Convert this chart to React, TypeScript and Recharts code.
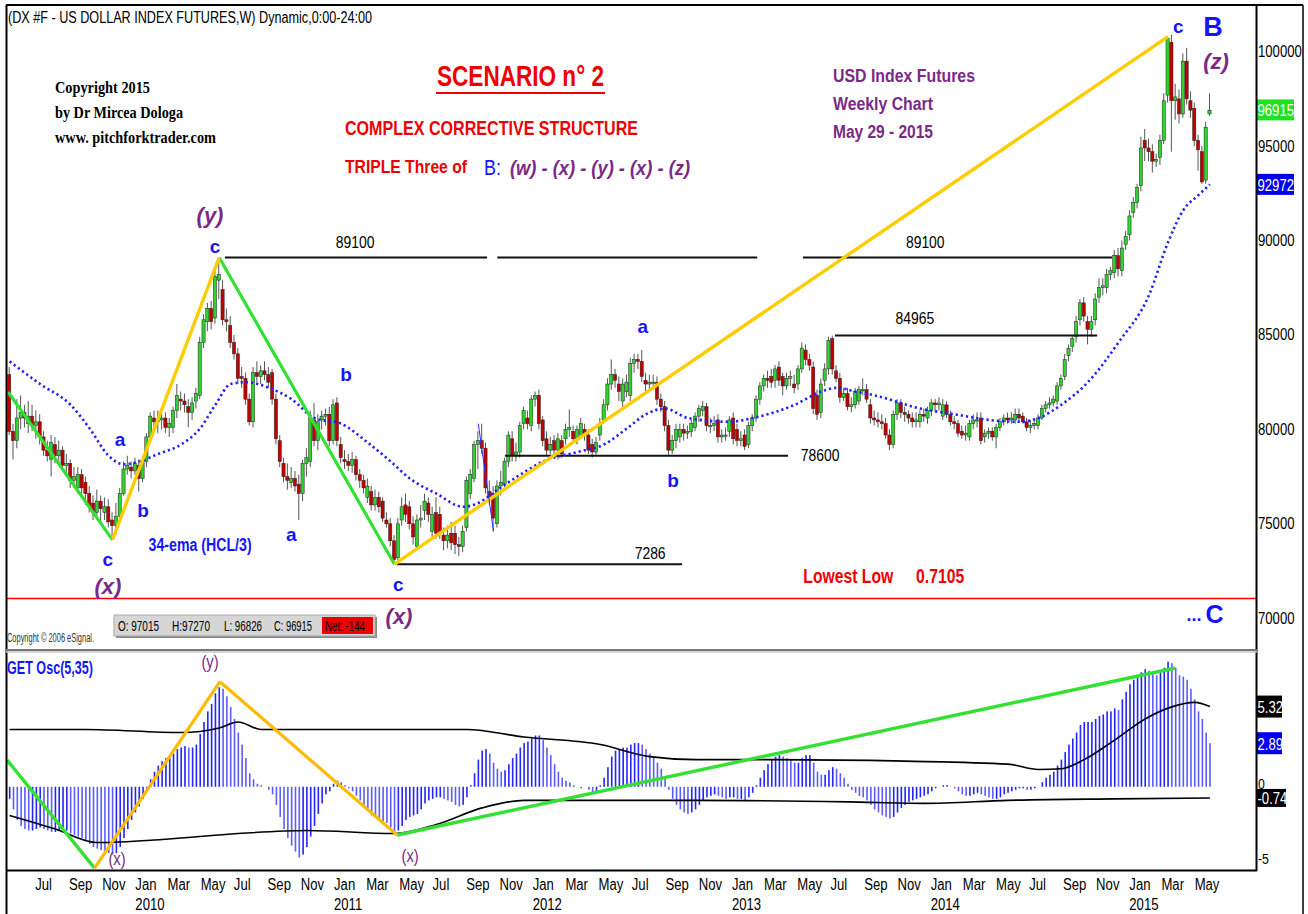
import React from 'react';
import { ComposedChart, Bar, Line, XAxis, YAxis, ReferenceLine, ReferenceDot } from 'recharts';

const SANS = "'Liberation Sans', Arial, sans-serif";
const SERIF = "'Liberation Serif', 'Times New Roman', serif";
const NARROW_X = 0.82;

const DAY = 86400000;
const FIRST_FRIDAY = Date.UTC(2009, 4, 15);
const weekTime = (w: number) => FIRST_FRIDAY + w * 7 * DAY;

// weekly candles [open, high, low, close], one array per calendar year
const ohlc2009 = [
  [82.9, 83.3, 79.7, 79.9], [79.9, 80.3, 78.4, 79.4], [79.4, 81.6, 79.0, 80.6], [80.6, 81.8, 80.0, 80.9],
  [80.9, 81.3, 80.1, 80.6], [80.3, 81.5, 79.8, 80.7], [80.7, 81.3, 79.9, 80.2], [80.2, 81.0, 79.5, 80.4],
  [80.4, 80.8, 79.2, 79.6], [79.6, 79.9, 78.6, 78.9], [78.9, 79.4, 78.3, 78.6], [78.4, 79.7, 77.5, 79.3],
  [79.2, 79.6, 78.2, 78.6], [78.6, 79.4, 78.1, 78.9], [78.9, 79.1, 77.8, 78.1], [78.1, 78.7, 77.6, 78.2],
  [78.2, 78.4, 76.9, 77.3], [77.3, 78.0, 76.9, 77.5], [76.9, 78.0, 76.6, 77.6], [77.6, 77.9, 76.6, 76.9],
  [77.2, 77.5, 76.0, 76.6], [76.6, 77.0, 75.6, 75.9], [76.1, 76.5, 75.2, 75.6], [75.6, 76.8, 75.4, 76.2],
  [76.2, 76.5, 75.0, 75.8], [75.6, 76.4, 75.2, 75.9], [75.9, 76.3, 74.8, 75.1], [75.2, 75.6, 74.15, 74.9],
  [74.9, 76.1, 74.4, 75.4], [75.4, 76.9, 75.3, 76.6], [76.6, 78.3, 76.5, 77.9], [77.9, 78.6, 77.6, 78.1],
  [78.0, 78.3, 77.4, 77.8],
];
const ohlc2010 = [
  [77.8, 78.5, 77.6, 78.2], [78.1, 78.4, 76.7, 77.4], [77.4, 78.6, 77.2, 78.3], [78.3, 79.8, 78.0, 79.6],
  [79.6, 80.9, 79.3, 80.7], [80.6, 81.0, 79.9, 80.4], [80.4, 81.0, 79.8, 80.5], [80.5, 81.2, 80.0, 80.6],
  [80.6, 80.9, 79.8, 80.1], [80.1, 80.6, 79.6, 80.3], [80.1, 81.2, 79.8, 81.0], [81.0, 82.4, 80.6, 81.8],
  [81.6, 82.0, 81.0, 81.5], [81.5, 81.9, 80.9, 81.3], [81.2, 81.6, 80.1, 80.9], [80.9, 81.7, 80.5, 81.4],
  [81.5, 82.2, 81.1, 81.9], [81.8, 84.9, 81.6, 84.6], [84.6, 86.1, 84.3, 85.8], [85.7, 86.7, 85.2, 86.4],
  [86.4, 86.8, 85.3, 85.7], [85.9, 88.6, 85.6, 88.1], [87.9, 89.1, 86.9, 88.2], [87.4, 87.9, 85.5, 85.8],
  [85.8, 86.4, 85.2, 85.7], [85.5, 86.0, 84.3, 84.6], [84.6, 85.0, 83.7, 84.0], [84.0, 84.3, 82.4, 82.7],
  [82.8, 83.3, 82.2, 82.7], [82.7, 83.0, 81.3, 81.6], [81.6, 81.9, 80.2, 80.4], [80.4, 83.3, 80.1, 83.0],
  [83.0, 83.6, 82.5, 82.8], [82.8, 83.4, 82.4, 83.1], [83.1, 83.6, 82.6, 82.9], [82.9, 83.3, 82.2, 82.5],
  [83.0, 83.2, 81.3, 81.6], [81.6, 81.9, 79.2, 79.5], [79.4, 79.7, 78.0, 78.3], [78.2, 78.5, 77.2, 77.5],
  [77.5, 78.2, 76.8, 77.3], [77.2, 78.0, 76.9, 77.4], [77.4, 77.8, 76.7, 77.0], [77.1, 77.6, 75.2, 76.6],
  [76.6, 78.4, 76.2, 78.2], [78.2, 79.0, 77.5, 78.5], [78.3, 81.0, 78.0, 80.6], [80.5, 81.4, 79.1, 79.4],
  [79.4, 80.8, 78.9, 80.4], [80.5, 81.0, 80.0, 80.7], [80.7, 81.1, 80.2, 80.8], [80.8, 81.2, 79.1, 79.4],
  [79.4, 81.6, 79.2, 81.3],
];
const ohlc2011 = [
  [81.4, 81.7, 79.1, 79.4], [79.2, 79.6, 78.2, 78.5], [78.4, 78.9, 77.9, 78.3], [78.3, 78.7, 77.8, 78.1],
  [78.1, 78.8, 77.7, 78.4], [78.4, 78.6, 77.3, 77.6], [77.6, 77.9, 76.9, 77.3], [77.3, 77.6, 76.6, 76.9],
  [76.4, 77.4, 76.1, 77.0], [76.7, 77.0, 75.7, 76.0], [76.0, 76.8, 75.7, 76.4], [76.4, 76.7, 75.6, 75.9],
  [76.2, 76.4, 75.1, 75.3], [75.2, 75.6, 74.8, 75.0], [75.0, 75.3, 73.8, 74.1], [74.1, 74.4, 72.86, 73.1],
  [73.2, 75.3, 73.0, 75.0], [75.2, 76.4, 74.9, 75.9], [76.0, 76.6, 75.1, 75.5], [75.9, 76.2, 74.7, 75.0],
  [75.0, 75.4, 73.9, 74.3], [73.8, 75.5, 73.6, 75.2], [75.2, 76.0, 74.8, 75.3], [75.7, 76.6, 75.2, 76.2],
  [76.1, 76.4, 75.1, 75.5], [74.6, 75.9, 74.3, 75.5], [75.6, 76.4, 74.2, 74.5], [75.5, 75.9, 74.2, 74.5],
  [74.4, 74.8, 73.6, 74.1], [74.1, 74.9, 73.7, 74.4], [74.5, 75.1, 73.6, 74.0], [74.5, 74.9, 73.4, 73.9],
  [73.9, 74.3, 73.3, 73.8], [73.8, 74.9, 73.5, 74.6], [74.8, 77.5, 74.6, 77.3], [76.6, 77.9, 76.3, 77.6],
  [77.4, 79.4, 77.2, 79.2], [79.2, 79.9, 77.9, 79.4], [79.4, 80.3, 78.7, 79.0], [79.0, 79.3, 76.6, 76.9],
  [76.7, 77.3, 76.0, 76.4], [76.6, 77.0, 74.6, 75.3], [75.0, 77.3, 74.8, 77.0], [77.0, 77.8, 76.5, 77.2],
  [77.1, 78.5, 76.8, 78.3], [78.3, 79.9, 78.0, 79.7], [79.5, 79.9, 78.3, 78.6], [78.6, 79.3, 78.3, 78.8],
  [78.8, 80.4, 78.5, 80.2], [80.3, 81.2, 80.0, 81.0], [80.6, 81.0, 80.0, 80.3], [80.2, 81.8, 79.9, 81.6],
];
const ohlc2012 = [
  [81.6, 82.0, 81.2, 81.8], [81.8, 82.1, 80.0, 80.3], [80.5, 80.7, 79.1, 79.4], [79.5, 79.9, 78.6, 78.9],
  [78.9, 79.6, 78.7, 79.2], [79.4, 79.7, 78.6, 78.9], [78.9, 79.8, 78.4, 79.5], [79.4, 79.7, 78.5, 78.7],
  [79.5, 80.3, 79.2, 80.0], [80.0, 81.05, 79.6, 80.1], [79.9, 80.2, 79.3, 79.5], [79.5, 80.2, 79.2, 80.0],
  [79.7, 80.6, 79.5, 80.3], [80.0, 80.3, 79.4, 79.7], [79.7, 80.0, 78.7, 78.9], [79.2, 79.5, 78.5, 78.8],
  [78.8, 79.6, 78.6, 79.3], [79.7, 80.6, 79.4, 80.3], [80.5, 81.6, 80.3, 81.3], [81.3, 82.7, 81.0, 82.4],
  [82.4, 83.7, 82.1, 82.9], [82.9, 83.2, 82.2, 82.6], [82.4, 82.8, 81.5, 82.0], [81.5, 82.7, 81.2, 82.4],
  [82.0, 82.9, 81.7, 82.5], [81.8, 83.8, 81.5, 83.5], [83.5, 84.0, 83.0, 83.7], [83.7, 84.0, 83.2, 83.6],
  [83.6, 84.2, 82.5, 82.8], [82.6, 83.0, 82.0, 82.4], [82.4, 82.9, 82.0, 82.5], [82.5, 82.9, 82.1, 82.5],
  [82.5, 82.8, 81.3, 81.6], [81.6, 81.9, 80.9, 81.2], [81.2, 81.5, 79.9, 80.2], [80.2, 80.5, 78.6, 78.9],
  [78.9, 79.7, 78.7, 79.4], [79.4, 80.3, 79.0, 80.0], [79.6, 80.3, 79.3, 80.0], [80.0, 80.3, 79.4, 79.8],
  [79.8, 80.2, 79.5, 79.9], [79.9, 80.5, 79.6, 80.3], [80.1, 80.9, 79.9, 80.7], [80.7, 81.3, 80.4, 81.1],
  [81.0, 81.5, 80.7, 81.2], [81.2, 81.4, 79.9, 80.2], [80.2, 80.6, 79.8, 80.2], [80.2, 80.7, 79.9, 80.3],
  [80.5, 80.8, 79.3, 79.6], [79.6, 80.0, 79.3, 79.7], [79.7, 80.1, 79.4, 79.7], [79.9, 80.7, 79.6, 80.5],
];
const ohlc2013 = [
  [80.6, 80.9, 79.2, 79.5], [80.0, 80.3, 79.1, 79.4], [79.4, 79.9, 79.1, 79.5], [79.7, 80.0, 78.9, 79.1],
  [79.2, 80.4, 79.0, 80.2], [80.2, 80.8, 79.9, 80.6], [80.6, 81.8, 80.4, 81.6], [81.6, 82.5, 81.3, 82.3],
  [82.3, 82.9, 82.0, 82.7], [82.7, 83.1, 82.2, 82.6], [82.8, 83.2, 82.2, 82.5], [82.6, 83.4, 82.2, 83.2],
  [83.3, 83.6, 82.3, 82.6], [82.8, 83.0, 81.8, 82.3], [82.3, 83.0, 82.1, 82.7], [82.7, 83.1, 82.3, 82.8],
  [82.4, 82.9, 81.9, 82.2], [82.4, 83.4, 82.1, 83.2], [83.2, 84.6, 83.0, 84.3], [84.2, 84.5, 83.4, 83.7],
  [83.7, 84.0, 83.1, 83.4], [83.3, 83.6, 80.8, 81.1], [81.8, 82.1, 80.5, 80.8], [80.9, 82.7, 80.6, 82.4],
  [82.6, 83.5, 82.3, 83.2], [83.2, 84.9, 82.9, 84.7], [84.8, 84.965, 82.9, 83.2], [83.1, 83.4, 82.5, 82.7],
  [82.7, 83.0, 81.4, 81.7], [81.7, 82.2, 81.5, 81.9], [81.9, 82.2, 81.0, 81.2], [81.2, 81.7, 80.9, 81.3],
  [81.3, 82.2, 81.1, 82.0], [81.5, 82.3, 81.3, 82.1], [82.1, 82.7, 81.8, 82.1], [82.1, 82.4, 81.4, 81.6],
  [81.3, 81.6, 80.3, 80.6], [80.6, 81.0, 80.2, 80.5], [80.5, 80.9, 80.1, 80.4], [80.4, 80.8, 80.0, 80.3],
  [80.3, 80.6, 79.5, 79.7], [79.7, 80.0, 78.9, 79.2], [79.2, 81.0, 79.0, 80.8], [80.8, 81.6, 80.5, 81.4],
  [81.4, 81.6, 80.6, 80.9], [80.9, 81.2, 80.4, 80.8], [80.8, 81.0, 80.3, 80.6], [80.6, 80.9, 80.1, 80.4],
  [80.4, 80.9, 80.1, 80.5], [80.4, 81.0, 80.1, 80.8], [80.8, 81.1, 80.4, 80.7], [80.6, 81.2, 80.3, 81.0],
];
const ohlc2014 = [
  [81.0, 81.6, 80.7, 81.4], [81.4, 81.6, 80.9, 81.3], [81.3, 81.7, 81.0, 81.4], [80.7, 81.6, 80.5, 81.3],
  [81.3, 81.5, 80.6, 80.8], [80.8, 81.0, 80.2, 80.4], [80.4, 80.7, 80.0, 80.3], [80.3, 80.5, 79.6, 79.8],
  [79.9, 80.2, 79.5, 79.7], [79.7, 80.2, 79.4, 79.8], [79.6, 80.5, 79.4, 80.3], [80.3, 80.8, 80.0, 80.5],
  [80.5, 80.9, 80.1, 80.5], [80.6, 80.9, 79.2, 79.4], [79.6, 80.0, 79.3, 79.8], [79.8, 80.1, 79.5, 79.9],
  [79.9, 80.1, 79.4, 79.6], [79.6, 80.3, 79.0, 80.1], [80.1, 80.6, 79.9, 80.4], [80.4, 80.8, 80.2, 80.6],
  [80.6, 80.9, 80.3, 80.5], [80.5, 80.9, 80.3, 80.6], [80.5, 81.1, 80.3, 80.8], [80.8, 81.1, 80.4, 80.6],
  [80.7, 80.9, 80.3, 80.4], [80.4, 80.6, 79.9, 80.1], [80.1, 80.5, 79.8, 80.2], [80.2, 80.6, 80.0, 80.3],
  [80.2, 80.8, 80.0, 80.6], [80.6, 81.3, 80.5, 81.1], [81.1, 81.5, 80.9, 81.3], [81.3, 81.7, 81.1, 81.4],
  [81.4, 81.8, 81.2, 81.6], [81.5, 82.5, 81.3, 82.3], [82.3, 82.9, 82.1, 82.7], [82.8, 84.0, 82.6, 83.7],
  [83.9, 84.5, 83.6, 84.3], [84.4, 85.0, 84.1, 84.8], [84.9, 86.0, 84.6, 85.7], [85.8, 86.9, 85.5, 86.7],
  [86.7, 87.0, 85.7, 86.0], [85.7, 86.0, 84.5, 85.3], [85.3, 86.0, 84.9, 85.7], [85.8, 87.2, 85.5, 86.9],
  [87.0, 88.0, 86.7, 87.5], [87.5, 88.0, 87.1, 87.6], [87.5, 88.5, 87.2, 88.2], [88.2, 88.6, 87.9, 88.4],
  [88.3, 89.5, 88.0, 89.2], [89.2, 89.6, 88.1, 88.5], [88.4, 90.0, 88.1, 89.6], [89.8, 90.5, 89.5, 90.2],
];
const ohlc2015 = [
  [90.3, 91.6, 90.0, 91.3], [91.5, 92.3, 91.2, 92.0], [92.0, 93.0, 91.7, 92.8], [92.9, 95.5, 92.6, 94.9],
  [95.3, 95.9, 94.2, 94.9], [94.9, 95.4, 94.2, 94.7], [94.7, 95.1, 93.6, 94.2], [94.2, 94.6, 93.9, 94.3],
  [94.4, 95.6, 94.0, 95.3], [95.3, 97.8, 95.1, 97.4], [97.7, 100.8, 97.3, 100.7], [100.5, 100.9, 94.7, 97.4],
  [97.4, 98.3, 96.4, 97.6], [97.5, 98.0, 96.2, 96.7], [96.7, 99.9, 96.5, 99.5], [99.5, 100.2, 97.2, 97.5],
  [97.4, 97.9, 96.5, 96.9], [97.0, 97.3, 95.0, 95.3], [95.3, 95.6, 93.7, 94.8], [94.7, 95.0, 93.0, 93.1],
  [93.2, 96.3, 93.0, 96.0], [96.7, 97.8, 96.6, 96.9],
];

// GET oscillator (5,35) histogram, one value per week
const osc2009 = [-0.8, -1.5, -2.2, -2.6, -2.8, -2.9, -2.9, -2.8, -2.7, -2.8, -2.9, -3.0, -3.0, -2.9, -2.9, -2.9, -3.1, -3.2, -3.3, -3.4, -3.6, -3.8, -4.0, -4.1, -4.2, -4.3, -4.4, -4.5, -4.4, -4.0, -3.4, -2.8, -2.2];
const osc2010 = [-1.7, -1.3, -0.8, -0.2, 0.5, 1.0, 1.4, 1.7, 1.9, 2.0, 2.2, 2.5, 2.6, 2.7, 2.6, 2.6, 2.8, 3.5, 4.3, 5.0, 5.5, 6.2, 6.6, 6.5, 6.0, 5.3, 4.5, 3.6, 2.8, 1.9, 0.9, 0.5, 0.2, 0.1, 0.0, -0.2, -0.5, -1.2, -2.0, -2.8, -3.4, -3.9, -4.3, -4.7, -4.5, -4.0, -3.3, -2.6, -1.8, -1.1, -0.5, -0.3, 0.2];
const osc2011 = [0.4, 0.3, 0.1, -0.1, -0.3, -0.6, -0.9, -1.3, -1.6, -1.9, -2.0, -2.1, -2.3, -2.4, -2.7, -3.0, -2.9, -2.6, -2.2, -2.0, -1.9, -1.8, -1.5, -1.1, -0.9, -0.8, -0.7, -0.7, -0.8, -0.9, -1.0, -1.2, -1.3, -1.2, -0.7, 0.1, 0.9, 1.8, 2.4, 2.5, 2.2, 1.6, 1.2, 1.0, 1.1, 1.5, 1.9, 2.2, 2.6, 2.9, 3.0, 3.2];
const osc2012 = [3.4, 3.4, 3.1, 2.6, 2.1, 1.5, 1.0, 0.6, 0.4, 0.3, 0.1, 0.0, -0.1, 0.0, -0.2, -0.4, -0.3, 0.1, 0.6, 1.3, 2.0, 2.4, 2.5, 2.6, 2.6, 2.8, 2.9, 2.9, 2.8, 2.5, 2.2, 2.0, 1.6, 1.2, 0.6, -0.2, -0.8, -1.2, -1.5, -1.7, -1.8, -1.7, -1.5, -1.2, -0.9, -0.7, -0.6, -0.5, -0.6, -0.7, -0.8, -0.7];
const osc2013 = [-0.7, -0.8, -0.8, -0.9, -0.7, -0.4, 0.1, 0.6, 1.1, 1.5, 1.8, 2.0, 2.1, 2.0, 1.9, 1.8, 1.6, 1.6, 1.9, 2.1, 2.1, 1.6, 1.0, 0.8, 0.8, 1.1, 1.3, 1.2, 0.9, 0.6, 0.2, -0.2, -0.4, -0.6, -0.7, -0.9, -1.2, -1.5, -1.7, -1.9, -2.0, -2.1, -2.0, -1.7, -1.4, -1.2, -1.0, -0.9, -0.8, -0.7, -0.6, -0.5];
const osc2014 = [-0.3, -0.1, 0.0, 0.1, 0.1, 0.0, -0.1, -0.3, -0.5, -0.6, -0.6, -0.5, -0.4, -0.5, -0.6, -0.7, -0.8, -0.8, -0.7, -0.5, -0.4, -0.3, -0.2, -0.1, -0.1, -0.2, -0.2, -0.1, 0.0, 0.3, 0.6, 0.8, 1.0, 1.4, 1.8, 2.3, 2.8, 3.2, 3.6, 4.1, 4.3, 4.3, 4.3, 4.5, 4.7, 4.8, 5.0, 5.0, 5.2, 5.1, 5.8, 6.3];
const osc2015 = [6.8, 7.1, 7.3, 7.6, 7.8, 7.7, 7.5, 7.4, 7.6, 7.9, 8.3, 8.2, 7.9, 7.4, 7.3, 7.1, 6.5, 5.8, 5.0, 4.5, 3.6, 2.89];

// 34-ema (HCL/3): [week number, value]
const emaPoints = [
  [0, 83.6], [8, 82.4], [16, 81.3], [21, 80.05], [26, 78.6], [30, 78.15], [34, 78.3], [39, 78.7], [45, 79.2],
  [50, 80.05], [54, 81.3], [58, 82.4], [62, 82.5], [68, 82.2], [74, 81.6], [80, 80.6], [87, 80.3], [94, 79.3],
  [100, 78.3], [105, 77.4], [112, 76.6], [119, 75.9], [123, 76.1], [128, 76.8], [134, 77.6], [140, 78.3],
  [149, 78.8], [156, 79.2], [162, 80.05], [167, 80.8], [172, 81.1], [178, 80.6], [189, 80.4], [195, 80.6],
  [206, 81.3], [213, 82.0], [217, 82.2], [222, 82.0], [227, 81.8], [239, 81.1], [248, 80.8], [257, 80.5],
  [265, 80.4], [270, 80.6], [276, 81.3], [283, 82.5], [291, 84.6], [299, 87.1], [304, 89.9], [308, 91.6],
  [312, 92.4], [315, 92.97],
];
// oscillator bands: [week number, value]
const upperBand = [
  [0, 3.8], [20, 3.8], [45, 3.6], [55, 3.9], [60, 4.3], [66, 3.8], [80, 3.8], [120, 3.8], [135, 3.3], [155, 2.8],
  [168, 2.0], [180, 1.8], [200, 1.8], [235, 1.7], [262, 1.5], [270, 1.15], [276, 1.2], [282, 1.8], [290, 3.1],
  [298, 4.5], [305, 5.3], [311, 5.6], [315, 5.32],
];
const lowerBand = [
  [0, -1.9], [12, -2.8], [23, -3.7], [40, -3.5], [60, -3.1], [78, -2.9], [101, -3.1], [112, -2.5], [124, -1.4],
  [135, -0.9], [180, -0.9], [220, -1.0], [240, -1.1], [262, -0.9], [290, -0.8], [315, -0.74],
];

// wave structure lines in the price panel: [week, price]
const greenWaves = [[[-0.4, 81.98], [27, 74.15]], [[55, 89.1], [101, 72.86]]];
const yellowWaves = [[[27, 74.15], [55, 89.1]], [[101, 72.86], [304, 100.8]]];
const minorWave = [[123, 80.3], [127, 74.6]];
const levelSegments = [
  { v: 89.1, from: 56.5, to: 125.3 }, { v: 89.1, from: 128, to: 196.2 }, { v: 89.1, from: 208.2, to: 289.3 },
  { v: 84.965, from: 216.6, to: 285.4 }, { v: 78.6, from: 130, to: 204.3 }, { v: 72.86, from: 101.7, to: 176.5 },
];
const LOWEST_LOW = 71.05;
const levelLabels = [
  { w: 90.7, v: 89.93, text: '89100' }, { w: 240.3, v: 89.93, text: '89100' }, { w: 237.6, v: 85.9, text: '84965' },
  { w: 212.7, v: 78.65, text: '78600' }, { w: 168.1, v: 73.46, text: '7286' },
];
const waveTags = [
  { w: 52.6, v: 91.34, text: '(y)', kind: 'deg' }, { w: 53.9, v: 89.69, text: 'c', kind: 'wave' },
  { w: 29.0, v: 79.44, text: 'a', kind: 'wave' }, { w: 35.0, v: 75.73, text: 'b', kind: 'wave' },
  { w: 25.8, v: 73.1, text: 'c', kind: 'wave' }, { w: 25.8, v: 71.66, text: '(x)', kind: 'deg' },
  { w: 73.9, v: 74.41, text: 'a', kind: 'wave' }, { w: 88.3, v: 82.89, text: 'b', kind: 'wave' },
  { w: 102.0, v: 71.76, text: 'c', kind: 'wave' }, { w: 102.2, v: 70.07, text: '(x)', kind: 'deg' },
  { w: 166.2, v: 85.43, text: 'a', kind: 'wave' }, { w: 174.1, v: 77.27, text: 'b', kind: 'wave' },
  { w: 306.7, v: 101.31, text: 'c', kind: 'wave' }, { w: 315.8, v: 101.31, text: 'B', kind: 'big' },
  { w: 316.6, v: 99.46, text: '(z)', kind: 'deg' }, { w: 50, v: 73.88, text: '34-ema (HCL/3)', kind: 'ema' },
];
const lastPrice = 96.915;
const lastEma = 92.972;

// oscillator panel annotations: [week, value]
const oscGreen = [[[-0.68, 1.78], [22.3, -5.4]], [[101.7, -3.2], [305.9, 7.88]]];
const oscOrange = [[[22.3, -5.4], [55.2, 6.97]], [[55.2, 6.97], [101.7, -3.2]]];
const oscTags = [
  { w: 28.2, v: -4.73, text: '(x)' }, { w: 105.1, v: -4.53, text: '(x)' }, { w: 52.6, v: 8.3, text: '(y)' },
];
const oscLast = { upper: 5.32, osc: 2.89, lower: -0.74 };

const MONTHS = ['Jan', 'Feb', 'Mar', 'Apr', 'May', 'Jun', 'Jul', 'Aug', 'Sep', 'Oct', 'Nov', 'Dec'];
const monthTicks: number[] = [];
for (let y = 2009; y <= 2015; y++) {
  for (let m = 0; m < 12; m += 2) {
    const t = Date.UTC(y, m, 1);
    if (t >= Date.UTC(2009, 6, 1) && t <= Date.UTC(2015, 4, 1)) monthTicks.push(t);
  }
}

const candles = [...ohlc2009, ...ohlc2010, ...ohlc2011, ...ohlc2012, ...ohlc2013, ...ohlc2014, ...ohlc2015];
const oscValues = [...osc2009, ...osc2010, ...osc2011, ...osc2012, ...osc2013, ...osc2014, ...osc2015];

const rows: any[] = candles.map(([o, h, l, c], w) => ({
  t: weekTime(w), o, h, l, c, range: [l, h], osc: oscValues[w], oscPrev: w > 0 ? oscValues[w - 1] : oscValues[w],
}));
emaPoints.forEach(([w, v]) => { rows[w].ema = v; });
upperBand.forEach(([w, v]) => { rows[w].ub = v; });
lowerBand.forEach(([w, v]) => { rows[w].lb = v; });

const X_DOMAIN = [weekTime(-0.68), weekTime(327.1)];
const PRICE_DOMAIN = [68.37, 102.47];
const OSC_DOMAIN = [-5.52, 8.94];

// condensed text (Arial Narrow look) drawn by squeezing Liberation Sans horizontally
const NText = (p: any) => {
  const { x, y, children, anchor = 'start', size = 15, weight = 400, fill = '#000', sx = NARROW_X, baseline, italic } = p;
  return (
    <text transform={`translate(${x},${y}) scale(${sx},1)`} x={0} y={0} textAnchor={anchor} fontSize={size}
      fontWeight={weight} fontStyle={italic ? 'italic' : 'normal'} fontFamily={SANS} fill={fill} dominantBaseline={baseline}>{children}</text>
  );
};

// text squeezed to an exact width w
const FitText = (p: any) => {
  const { x, y, w, sx = 0.82, children, size = 15, weight = 400, fill = '#000', italic, family = SANS } = p;
  return (
    <text transform={`translate(${x},${y}) scale(${sx},1)`} x={0} y={0} fontSize={size} fontWeight={weight}
      fontStyle={italic ? 'italic' : 'normal'} fontFamily={family} fill={fill}
      textLength={w / sx} lengthAdjust="spacingAndGlyphs">{children}</text>
  );
};

const Candle = (props: any) => {
  const { x, y, width, height, payload } = props;
  if (!payload) return null;
  const { o, h, l, c } = payload;
  const cx = x + width / 2;
  const span = h - l || 1;
  const py = (v: number) => y + ((h - v) / span) * height;
  const top = py(Math.max(o, c));
  const bot = py(Math.min(o, c));
  const up = c >= o;
  return (
    <g>
      <line x1={cx} x2={cx} y1={y} y2={y + height} stroke="#555" strokeWidth={1} />
      <rect x={cx - 1.6} y={top} width={3.2} height={Math.max(bot - top, 1.2)} fill={up ? '#2fd22f' : '#c00000'} stroke="#222" strokeWidth={0.5} />
    </g>
  );
};

const OscBar = (props: any) => {
  const { x, y, width, height, payload } = props;
  if (!payload) return null;
  const yy = height < 0 ? y + height : y;
  const hh = Math.abs(height);
  const rising = payload.osc >= payload.oscPrev;
  return <rect x={x + width / 2 - 0.8} y={yy} width={1.6} height={hh} fill={rising ? '#2424ff' : '#5c5cff'} />;
};

const MonthTick = (props: any) => {
  const { x, y, payload } = props;
  const d = new Date(payload.value);
  const m = d.getUTCMonth();
  return (
    <g>
      <NText x={x} y={y + 20} size={16}>{MONTHS[m]}</NText>
      {m === 0 && <NText x={x} y={y + 40} size={16}>{d.getUTCFullYear()}</NText>}
    </g>
  );
};

const PriceTick = (props: any) => {
  const { x, y, payload } = props;
  return <NText x={x} y={y} size={16} baseline="central">{String(Math.round(payload.value * 1000))}</NText>;
};
const OscTick = (props: any) => {
  const { x, y, payload } = props;
  return <NText x={x} y={y - 3} size={15} baseline="central">{String(payload.value)}</NText>;
};

const tagStyle = (kind: string) => {
  if (kind === 'deg') return { fill: '#7a2a86', fontSize: 22, fontWeight: 700, fontStyle: 'italic' };
  if (kind === 'big') return { fill: '#1414ff', fontSize: 27, fontWeight: 700, fontStyle: 'normal' };
  if (kind === 'ema') return { fill: '#1414ff', fontSize: 18, fontWeight: 700, fontStyle: 'normal', len: 103 };
  return { fill: '#1414ff', fontSize: 19, fontWeight: 700, fontStyle: 'normal' };
};

const textShape = (text: string, style: any) => (p: any) => (
  <text x={p.cx} y={p.cy} textAnchor="middle" dominantBaseline="central" fill={style.fill} fontSize={style.fontSize}
    fontWeight={style.fontWeight} fontStyle={style.fontStyle} fontFamily={SANS}
    textLength={style.len} lengthAdjust={style.len ? 'spacingAndGlyphs' : undefined}>{text}</text>
);

const valueBox = (text: string, bg: string, w: number, h: number) => (p: any) => (
  <g>
    <rect x={p.cx + 1} y={p.cy - h / 2} width={w} height={h} fill={bg} />
    <NText x={p.cx + 1.5} y={p.cy + 1} size={16} fill="#fff" baseline="central">{text}</NText>
  </g>
);

const MainChart = () => (
  <ComposedChart width={1308} height={649} data={rows} margin={{ top: 5, right: 2, bottom: 0, left: 7 }}>
    <XAxis dataKey="t" type="number" domain={X_DOMAIN} hide allowDataOverflow />
    <YAxis orientation="right" type="number" width={50} domain={PRICE_DOMAIN} allowDataOverflow
      ticks={[70, 75, 80, 85, 90, 95, 100]} axisLine={false} tickLine={false} tickSize={0} tickMargin={2}
      tick={(p: any) => <PriceTick {...p} />} />
    <ReferenceLine y={LOWEST_LOW} stroke="#ff0000" strokeWidth={1.5} ifOverflow="visible" />
    {levelSegments.map((s, k) => (
      <ReferenceLine key={'lv' + k} segment={[{ x: weekTime(s.from), y: s.v }, { x: weekTime(s.to), y: s.v }]} stroke="#111" strokeWidth={2} ifOverflow="visible" />
    ))}
    <Line dataKey="ema" type="monotone" connectNulls dot={false} stroke="#1f1fff" strokeWidth={2.6} strokeDasharray="2.2 3" isAnimationActive={false} />
    {greenWaves.map((s, k) => (
      <ReferenceLine key={'gw' + k} segment={[{ x: weekTime(s[0][0]), y: s[0][1] }, { x: weekTime(s[1][0]), y: s[1][1] }]} stroke="#33e033" strokeWidth={3.2} ifOverflow="visible" />
    ))}
    {yellowWaves.map((s, k) => (
      <ReferenceLine key={'yw' + k} segment={[{ x: weekTime(s[0][0]), y: s[0][1] }, { x: weekTime(s[1][0]), y: s[1][1] }]} stroke="#ffcc00" strokeWidth={3.4} ifOverflow="visible" />
    ))}
    <ReferenceLine segment={[{ x: weekTime(minorWave[0][0]), y: minorWave[0][1] }, { x: weekTime(minorWave[1][0]), y: minorWave[1][1] }]} stroke="#3030ff" strokeWidth={1} ifOverflow="visible" />
    <Bar dataKey="range" barSize={3} shape={(p: any) => <Candle {...p} />} isAnimationActive={false} />
    {levelLabels.map((l, k) => (
      <ReferenceDot key={'ll' + k} x={weekTime(l.w)} y={l.v} r={0} ifOverflow="visible"
        shape={(p: any) => <NText x={p.cx} y={p.cy} size={17} anchor="middle" baseline="central">{l.text}</NText>} />
    ))}
    {waveTags.map((l, k) => (
      <ReferenceDot key={'wt' + k} x={weekTime(l.w)} y={l.v} r={0} ifOverflow="visible" shape={textShape(l.text, tagStyle(l.kind))} />
    ))}
    <ReferenceDot x={weekTime(220.1)} y={72.24} r={0} ifOverflow="visible"
      shape={textShape('Lowest Low', { fill: '#ee0000', fontSize: 20, fontWeight: 700, fontStyle: 'normal', len: 90 })} />
    <ReferenceDot x={weekTime(244.2)} y={72.24} r={0} ifOverflow="visible"
      shape={textShape('0.7105', { fill: '#ee0000', fontSize: 20, fontWeight: 700, fontStyle: 'normal', len: 48 })} />
    <ReferenceDot x={weekTime(310.8)} y={70.15} r={0} ifOverflow="visible"
      shape={textShape('...', { fill: '#1414ff', fontSize: 18, fontWeight: 700, fontStyle: 'normal' })} />
    <ReferenceDot x={weekTime(316.2)} y={70.23} r={0} ifOverflow="visible"
      shape={textShape('C', { fill: '#1414ff', fontSize: 25, fontWeight: 700, fontStyle: 'normal' })} />
    <ReferenceDot x={X_DOMAIN[1]} y={lastPrice} r={0} ifOverflow="visible" shape={valueBox('96915', '#22e022', 37, 21)} />
    <ReferenceDot x={X_DOMAIN[1]} y={lastEma} r={0} ifOverflow="visible" shape={valueBox('92972', '#0000ee', 37, 21)} />
  </ComposedChart>
);

const OscChart = () => (
  <ComposedChart width={1308} height={262} data={rows} margin={{ top: 0, right: 2, bottom: 0, left: 7 }}>
    <XAxis dataKey="t" type="number" domain={X_DOMAIN} allowDataOverflow ticks={monthTicks} interval={0}
      tick={(p: any) => <MonthTick {...p} />} height={44} axisLine={false} tickLine={false} tickSize={0} tickMargin={0} />
    <YAxis orientation="right" type="number" width={50} domain={OSC_DOMAIN} allowDataOverflow ticks={[-5, 0]}
      axisLine={false} tickLine={false} tickSize={0} tickMargin={2} tick={(p: any) => <OscTick {...p} />} />
    <Bar dataKey="osc" barSize={2} shape={(p: any) => <OscBar {...p} />} isAnimationActive={false} />
    <Line dataKey="ub" type="monotone" connectNulls dot={false} stroke="#000" strokeWidth={1.6} isAnimationActive={false} />
    <Line dataKey="lb" type="monotone" connectNulls dot={false} stroke="#000" strokeWidth={1.6} isAnimationActive={false} />
    {oscGreen.map((s, k) => (
      <ReferenceLine key={'og' + k} segment={[{ x: weekTime(s[0][0]), y: s[0][1] }, { x: weekTime(s[1][0]), y: s[1][1] }]} stroke="#33e033" strokeWidth={3.4} ifOverflow="visible" />
    ))}
    {oscOrange.map((s, k) => (
      <ReferenceLine key={'oo' + k} segment={[{ x: weekTime(s[0][0]), y: s[0][1] }, { x: weekTime(s[1][0]), y: s[1][1] }]} stroke="#ffbb00" strokeWidth={3.2} ifOverflow="visible" />
    ))}
    {oscTags.map((l, k) => (
      <ReferenceDot key={'ot' + k} x={weekTime(l.w)} y={l.v} r={0} ifOverflow="visible"
        shape={(p: any) => <NText x={p.cx} y={p.cy} size={18} anchor="middle" baseline="central" fill="#7a2a86">{l.text}</NText>} />
    ))}
    <ReferenceDot x={X_DOMAIN[1]} y={oscLast.upper} r={0} ifOverflow="visible" shape={valueBox(String(oscLast.upper), '#000', 25, 22)} />
    <ReferenceDot x={X_DOMAIN[1]} y={oscLast.osc} r={0} ifOverflow="visible" shape={valueBox(String(oscLast.osc), '#0000ee', 25, 22)} />
    <ReferenceDot x={X_DOMAIN[1]} y={oscLast.lower} r={0} ifOverflow="visible" shape={valueBox(String(oscLast.lower), '#000', 29, 18)} />
  </ComposedChart>
);

const Overlay = () => (
  <svg width={1308} height={914} style={{ position: 'absolute', left: 0, top: 0, pointerEvents: 'none' }}>
    {/* frame */}
    <line x1={6} x2={1303} y1={5} y2={5} stroke="#000" strokeWidth={2} />
    <line x1={6.5} x2={6.5} y1={5} y2={914} stroke="#000" strokeWidth={2} />
    <line x1={1256.5} x2={1256.5} y1={5} y2={871} stroke="#000" strokeWidth={2} />
    <line x1={1303} x2={1303} y1={5} y2={914} stroke="#000" strokeWidth={1.5} />
    <line x1={6} x2={1257} y1={870.5} y2={870.5} stroke="#000" strokeWidth={2} />
    <line x1={6} x2={1257} y1={650} y2={650} stroke="#777" strokeWidth={2} />
    <line x1={6} x2={1257} y1={652} y2={652} stroke="#c8c8c8" strokeWidth={1.5} />
    {/* header */}
    <FitText x={8} y={23} w={364} size={16}>(DX #F - US DOLLAR INDEX FUTURES,W) Dynamic,0:00-24:00</FitText>
    <FitText x={55} y={93} w={95} sx={0.9} size={17} weight={700} family={SERIF}>Copyright 2015</FitText>
    <FitText x={55} y={118} w={128} sx={0.9} size={17} weight={700} family={SERIF}>by Dr Mircea Dologa</FitText>
    <FitText x={55} y={143} w={161} sx={0.9} size={17} weight={700} family={SERIF}>www. pitchforktrader.com</FitText>
    <FitText x={437} y={86} w={167} sx={0.75} size={29} weight={700} fill="#ee0000">SCENARIO n° 2</FitText>
    <line x1={436} x2={605} y1={93} y2={93} stroke="#ee0000" strokeWidth={2} />
    <FitText x={345} y={135} w={293} sx={0.8} size={20} weight={700} fill="#ee0000">COMPLEX CORRECTIVE STRUCTURE</FitText>
    <FitText x={345} y={173} w={122} sx={0.8} size={19} weight={700} fill="#ee0000">TRIPLE Three of</FitText>
    <FitText x={484} y={175} w={17} sx={0.8} size={22} fill="#1414ff">B:</FitText>
    <FitText x={510} y={175} w={180} sx={0.82} size={21} weight={700} italic fill="#7a2a86">(w) - (x) - (y) - (x) - (z)</FitText>
    <FitText x={833} y={82} w={142} sx={0.82} size={19} weight={700} fill="#7a2a86">USD Index Futures</FitText>
    <FitText x={833} y={110} w={100} sx={0.82} size={19} weight={700} fill="#7a2a86">Weekly Chart</FitText>
    <FitText x={833} y={138} w={100} sx={0.82} size={19} weight={700} fill="#7a2a86">May 29 - 2015</FitText>
    {/* data window */}
    <rect x={116} y={617} width={261} height={21} fill="#888" />
    <rect x={114} y={615} width={261} height={21} fill="#d6d6d6" stroke="#aaa" strokeWidth={1} />
    <rect x={322} y={617} width={51} height={17} fill="#ee0000" />
    <FitText x={118} y={631} w={41} sx={0.78} size={14}>O: 97015</FitText>
    <FitText x={172} y={631} w={38} sx={0.78} size={14}>H:97270</FitText>
    <FitText x={224} y={631} w={38} sx={0.78} size={14}>L: 96826</FitText>
    <FitText x={274} y={631} w={38} sx={0.78} size={14}>C: 96915</FitText>
    <FitText x={325} y={631} w={40} sx={0.78} size={14}>Net: -144</FitText>
    <FitText x={7} y={642} w={87} sx={0.8} size={12} fill="#333">Copyright © 2006 eSignal.</FitText>
    <FitText x={7} y={674} w={86} sx={0.8} size={19} weight={700} fill="#1414ff">GET Osc(5,35)</FitText>
  </svg>
);

export default function App() {
  return (
    <div style={{ position: 'absolute', left: 0, top: 0, width: 1308, height: 914, background: '#fff', overflow: 'hidden' }}>
      <div style={{ position: 'absolute', left: 0, top: 0 }}><MainChart /></div>
      <div style={{ position: 'absolute', left: 0, top: 652 }}><OscChart /></div>
      <Overlay />
    </div>
  );
}
